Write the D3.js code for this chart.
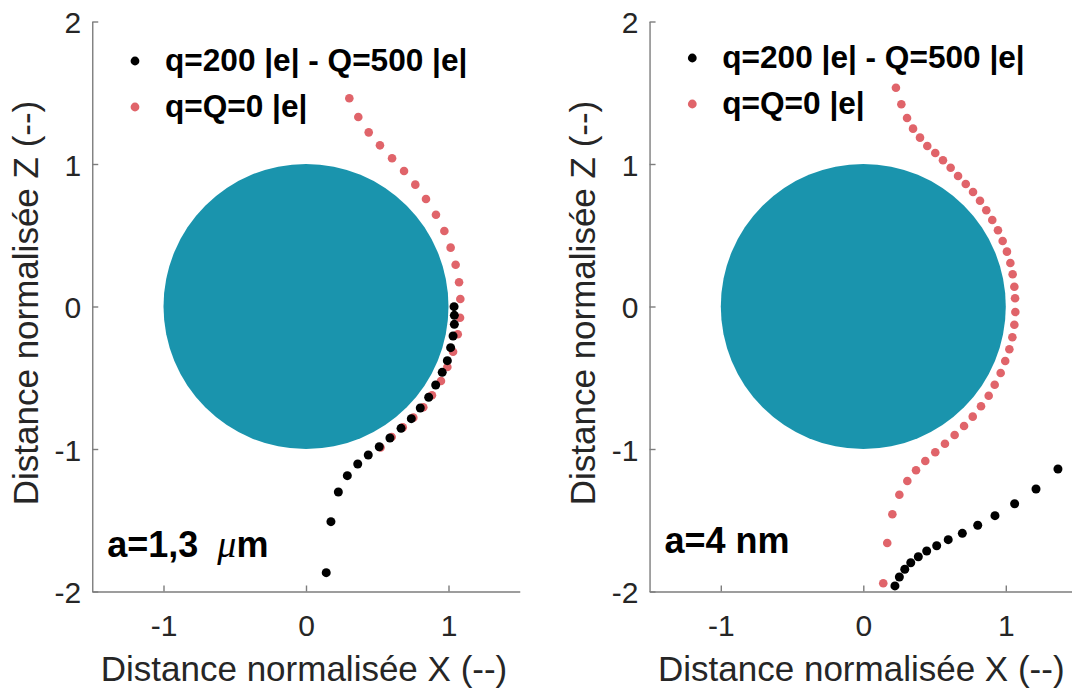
<!DOCTYPE html>
<html><head><meta charset="utf-8">
<script src="https://cdn.jsdelivr.net/npm/d3@7"></script>
<style>body{margin:0;background:#fff}</style>
</head><body>
<svg id="c" width="1072" height="688"></svg>
<script>
// ---------- data ----------
const xTicks = [-1, 0, 1];
const zTicks = [-2, -1, 0, 1, 2];
const xLabel = "Distance normalisée X (--)";
const zLabel = "Distance normalisée Z (--)";
const legendLabels = ["q=200 |e| - Q=500 |e|", "q=Q=0 |e|"];

// left panel (a = 1,3 µm)
const leftChargedX = [1.039,1.041,1.041,1.032,1.015,0.992,0.956,0.910,0.861,0.802,0.739,0.667,0.589,0.514,0.437,0.363,0.290,0.227,0.175,0.142];
const leftChargedZ = [-0.001,-0.062,-0.125,-0.207,-0.289,-0.380,-0.462,-0.551,-0.637,-0.712,-0.787,-0.855,-0.923,-0.984,-1.042,-1.105,-1.187,-1.302,-1.510,-1.868];
const leftNeutralX = [0.304,0.367,0.440,0.519,0.604,0.688,0.767,0.842,0.912,0.971,1.015,1.050,1.074,1.083,1.081,1.065,1.032,0.992,0.947,0.884,0.823,0.753,0.679,0.601,0.523];
const leftNeutralZ = [1.461,1.330,1.222,1.131,1.040,0.951,0.855,0.754,0.644,0.530,0.413,0.293,0.170,0.053,-0.079,-0.195,-0.317,-0.425,-0.523,-0.623,-0.707,-0.780,-0.848,-0.916,-0.989];

// right panel (a = 4 nm)
const rightChargedX = [1.366,1.212,1.062,0.924,0.803,0.695,0.596,0.515,0.445,0.386,0.333,0.291,0.253,0.222];
const rightChargedZ = [-1.140,-1.281,-1.384,-1.468,-1.535,-1.592,-1.636,-1.679,-1.716,-1.756,-1.798,-1.844,-1.898,-1.961];
const rightNeutralX = [0.229,0.267,0.307,0.349,0.398,0.449,0.505,0.559,0.613,0.665,0.719,0.770,0.819,0.863,0.905,0.945,0.978,1.008,1.032,1.048,1.060,1.065,1.067,1.060,1.046,1.025,0.996,0.964,0.922,0.880,0.826,0.768,0.707,0.641,0.573,0.505,0.435,0.370,0.309,0.253,0.204,0.168,0.140];
const rightNeutralZ = [1.535,1.419,1.323,1.248,1.185,1.126,1.077,1.026,0.974,0.916,0.860,0.804,0.742,0.675,0.607,0.535,0.460,0.385,0.305,0.226,0.139,0.058,-0.039,-0.128,-0.216,-0.300,-0.382,-0.467,-0.549,-0.626,-0.700,-0.773,-0.839,-0.902,-0.963,-1.023,-1.084,-1.149,-1.225,-1.321,-1.458,-1.660,-1.942];

// ---------- drawing ----------
const svg = d3.select("#c");
const FONT = "'Liberation Sans', Arial, Helvetica, sans-serif";
const AX = "#7d7d7d", TXT = "#262626";
const TEAL = "#1a94ad", RED = "#e0646a";

const panels = [
  {x0: 92.25, x1: 519.75, charged: [leftChargedX, leftChargedZ], neutral: [leftNeutralX, leftNeutralZ], ann: "left", legDy: 0, annDy: 0},
  {x0: 649.55, x1: 1077.05, charged: [rightChargedX, rightChargedZ], neutral: [rightNeutralX, rightNeutralZ], ann: "right", legDy: -3, annDy: -4}
];

panels.forEach(p => {
  const x = d3.scaleLinear().domain([-1.5, 1.5]).range([p.x0, p.x1]);
  const y = d3.scaleLinear().domain([-2, 2]).range([591.5, 21.5]);
  const g = svg.append("g");

  // sphere
  g.append("ellipse")
    .attr("cx", x(0)).attr("cy", y(0))
    .attr("rx", x(1) - x(0)).attr("ry", y(0) - y(1))
    .attr("fill", TEAL);

  // neutral trajectory (red)
  const nd = p.neutral[0].map((v, i) => [v, p.neutral[1][i]]);
  g.selectAll(".n").data(nd).enter().append("circle")
    .attr("cx", d => x(d[0])).attr("cy", d => y(d[1])).attr("r", 4.3).attr("fill", RED);

  // charged trajectory (black)
  const cd = p.charged[0].map((v, i) => [v, p.charged[1][i]]);
  g.selectAll(".c").data(cd).enter().append("circle")
    .attr("cx", d => x(d[0])).attr("cy", d => y(d[1])).attr("r", 4.5).attr("fill", "#000");

  // axes
  const fmt = d => d < 0 ? "-" + Math.abs(d) : String(d);
  const ya = g.append("g").attr("transform", `translate(${p.x0},0)`)
    .call(d3.axisLeft(y).tickValues(zTicks).tickSizeInner(-6).tickSizeOuter(0).tickPadding(11).tickFormat(fmt));
  const xa = g.append("g").attr("transform", `translate(0,591.5)`)
    .call(d3.axisBottom(x).tickValues(xTicks).tickSizeInner(-6).tickSizeOuter(0).tickPadding(23).tickFormat(fmt));
  [ya, xa].forEach(a => {
    a.select(".domain").attr("stroke", AX).attr("stroke-width", 1.4);
    a.selectAll(".tick line").attr("stroke", AX).attr("stroke-width", 1.4);
    a.selectAll(".tick text").attr("fill", TXT).attr("font-size", 30).attr("font-family", FONT);
  });
  ya.selectAll(".tick text").attr("dy", "0.38em");

  // axis labels
  g.append("text").attr("x", x(0) - 2).attr("y", 681).attr("text-anchor", "middle")
    .attr("font-family", FONT).attr("font-size", 35).attr("fill", TXT).text(xLabel);
  g.append("text").attr("transform", `translate(${p.x0 - 54.75},303) rotate(-90)`)
    .attr("text-anchor", "middle")
    .attr("font-family", FONT).attr("font-size", 35).attr("fill", TXT).text(zLabel);

  // legend
  const lx = p.x0 + 42.75;
  [["#000", 61], [RED, 107]].forEach((s, i) => {
    g.append("circle").attr("cx", lx).attr("cy", s[1] + p.legDy).attr("r", 4.4).attr("fill", s[0]);
    g.append("text").attr("x", p.x0 + 72.75).attr("y", s[1] + 10 + p.legDy)
      .attr("font-family", FONT).attr("font-size", 31.6).attr("font-weight", "bold").attr("fill", "#000")
      .text(legendLabels[i]);
  });

  // annotation
  const t = g.append("text").attr("x", p.x0 + 15).attr("y", 557 + p.annDy)
    .attr("font-family", FONT).attr("font-size", 36).attr("font-weight", "bold").attr("fill", "#000");
  if (p.ann === "left") {
    t.append("tspan").text("a=1,3");
    t.append("tspan").attr("dx", 19).attr("font-family", "'Liberation Serif', 'Times New Roman', serif")
      .attr("font-style", "italic").attr("font-weight", "normal").attr("font-size", 38).text("μ");
    t.append("tspan").text("m");
  } else {
    t.text("a=4 nm");
  }
});
</script>
</body></html>
